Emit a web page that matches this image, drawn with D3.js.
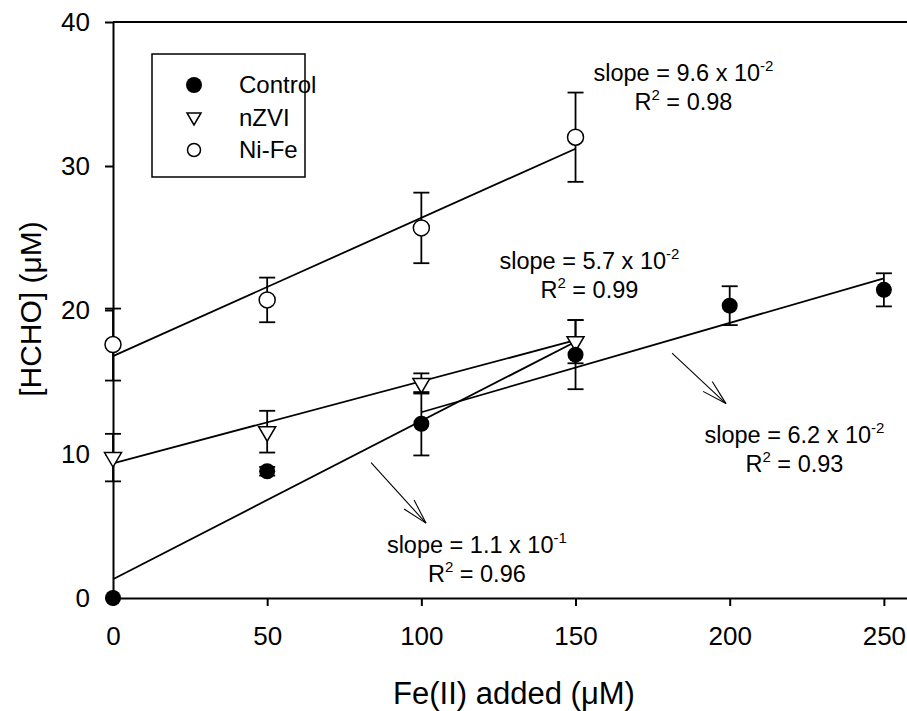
<!DOCTYPE html>
<html>
<head>
<meta charset="utf-8">
<style>
body { margin: 0; background: #fff; }
#thevis { display: block; background: #fff; }
text { font-family: "Liberation Sans", Arial, Helvetica, sans-serif; fill: #000; }
.tick line { stroke: #000; stroke-width: 2; }
.domain { stroke: #000; stroke-width: 2; }
</style>
</head>
<body>
<svg id="thevis" width="907" height="711"></svg>
<script src="https://cdn.jsdelivr.net/npm/d3@7/dist/d3.min.js"></script>
<script>

// values
var feAdded = [0, 50, 100, 150, 200, 250];

var controlY = [0, 8.8, 12.1, 16.9, 20.3, 21.4];
var controlErr = [0, 0.3, 2.2, 2.4, 1.35, 1.15];

var nzviX = [0, 50, 100, 150];
var nzviY = [9.75, 11.55, 14.9, 17.8];
var nzviErr = [1.65, 1.45, 0.7, 1.5];

var nifeX = [0, 50, 100, 150];
var nifeY = [17.6, 20.7, 25.7, 32.0];
var nifeErr = [2.5, 1.55, 2.45, 3.1];

// fitted lines: [x0, y0, x1, y1]
var fitLines = [
  [0, 16.8, 150, 31.2],
  [0, 9.35, 150, 17.9],
  [0, 1.3, 150, 17.8],
  [100, 12.9, 250, 22.2]
];

var xTicks = [0, 50, 100, 150, 200, 250];
var yTicks = [0, 10, 20, 30, 40];

var legendNames = ["Control", "nZVI", "Ni-Fe"];

// annotation text: slope mantissa, exponent, r2, anchor (data units)
var notes = [
  { slope: "9.6", exp: "-2", r2: "0.98", x: 185, y: 35.9 },
  { slope: "5.7", exp: "-2", r2: "0.99", x: 154.5, y: 22.85 },
  { slope: "1.1", exp: "-1", r2: "0.96", x: 118, y: 3.1 },
  { slope: "6.2", exp: "-2", r2: "0.93", x: 221, y: 10.75 }
];

// arrows: [x0, y0, x1, y1] in data units
var arrows = [
  [83.7, 9.4, 101.5, 5.2],
  [181.3, 17.0, 198.8, 13.5]
];

var svg = d3.select("#thevis");

var x = d3.scaleLinear().domain([0, 257.5]).range([113, 907]);
var y = d3.scaleLinear().domain([0, 40]).range([598, 22]);

// axes
svg.append("g")
  .attr("transform", "translate(0,598)")
  .call(d3.axisBottom(x).tickValues(xTicks).tickSize(8).tickSizeOuter(0).tickPadding(21));

svg.append("g")
  .attr("transform", "translate(113,0)")
  .call(d3.axisLeft(y).tickValues(yTicks).tickSize(8).tickSizeOuter(0).tickPadding(15));

svg.selectAll(".tick text")
  .attr("font-family", null)
  .style("font-size", "26px");

// top frame line
svg.append("line")
  .attr("x1", x(0)).attr("x2", 907)
  .attr("y1", y(40)).attr("y2", y(40))
  .attr("stroke", "#000").attr("stroke-width", 2);

// axis titles
svg.append("text")
  .attr("x", 514)
  .attr("y", 704)
  .attr("text-anchor", "middle")
  .style("font-size", "31px")
  .text("Fe(II) added (\u03bcM)");

svg.append("text")
  .attr("transform", "translate(41,309) rotate(-90)")
  .attr("text-anchor", "middle")
  .style("font-size", "30px")
  .text("[HCHO] (\u03bcM)");

// fit lines
svg.selectAll(".fit")
  .data(fitLines)
  .enter().append("line")
  .attr("class", "fit")
  .attr("x1", function(d) { return x(d[0]); })
  .attr("y1", function(d) { return y(d[1]); })
  .attr("x2", function(d) { return x(d[2]); })
  .attr("y2", function(d) { return y(d[3]); })
  .attr("stroke", "#000")
  .attr("stroke-width", 1.8);

// error bars
function errorBars(xs, ys, es) {
  var pts = xs.map(function(v, i) { return { x: v, y: ys[i], e: es[i] }; })
    .filter(function(d) { return d.e > 0; });
  var g = svg.append("g")
    .attr("stroke", "#000")
    .attr("stroke-width", 1.8);
  var eb = g.selectAll("g").data(pts).enter().append("g");
  eb.append("line")
    .attr("x1", function(d) { return x(d.x); })
    .attr("x2", function(d) { return x(d.x); })
    .attr("y1", function(d) { return y(d.y - d.e); })
    .attr("y2", function(d) { return y(d.y + d.e); });
  eb.append("line")
    .attr("x1", function(d) { return x(d.x) - 8; })
    .attr("x2", function(d) { return x(d.x) + 8; })
    .attr("y1", function(d) { return y(d.y + d.e); })
    .attr("y2", function(d) { return y(d.y + d.e); });
  eb.append("line")
    .attr("x1", function(d) { return x(d.x) - 8; })
    .attr("x2", function(d) { return x(d.x) + 8; })
    .attr("y1", function(d) { return y(d.y - d.e); })
    .attr("y2", function(d) { return y(d.y - d.e); });
}

errorBars(feAdded, controlY, controlErr);
errorBars(nzviX, nzviY, nzviErr);
errorBars(nifeX, nifeY, nifeErr);

var triPath = "M-8.5,-5L8.5,-5L0,9.5Z";

// markers
svg.selectAll(".nife")
  .data(nifeX)
  .enter().append("circle")
  .attr("class", "nife")
  .attr("cx", function(d) { return x(d); })
  .attr("cy", function(d, i) { return y(nifeY[i]); })
  .attr("r", 8)
  .attr("fill", "#fff")
  .attr("stroke", "#000")
  .attr("stroke-width", 1.5);

svg.selectAll(".nzvi")
  .data(nzviX)
  .enter().append("path")
  .attr("class", "nzvi")
  .attr("d", triPath)
  .attr("transform", function(d, i) { return "translate(" + x(d) + "," + y(nzviY[i]) + ")"; })
  .attr("fill", "#fff")
  .attr("stroke", "#000")
  .attr("stroke-width", 1.5);

svg.selectAll(".control")
  .data(feAdded)
  .enter().append("circle")
  .attr("class", "control")
  .attr("cx", function(d) { return x(d); })
  .attr("cy", function(d, i) { return y(controlY[i]); })
  .attr("r", 8)
  .attr("fill", "#000");

// annotations
notes.forEach(function(n) {
  var t1 = svg.append("text")
    .attr("x", x(n.x))
    .attr("y", y(n.y))
    .attr("text-anchor", "middle")
    .style("font-size", "23.5px");
  t1.append("tspan").text("slope = " + n.slope + " x 10");
  t1.append("tspan").attr("dy", -10).style("font-size", "15px").text(n.exp);

  var t2 = svg.append("text")
    .attr("x", x(n.x))
    .attr("y", y(n.y) + 29)
    .attr("text-anchor", "middle")
    .style("font-size", "23.5px");
  t2.append("tspan").text("R");
  t2.append("tspan").attr("dy", -10).style("font-size", "15px").text("2");
  t2.append("tspan").attr("dy", 10).text(" = " + n.r2);
});

// arrows with open heads
arrows.forEach(function(a) {
  var x0 = x(a[0]), y0 = y(a[1]), x1 = x(a[2]), y1 = y(a[3]);
  var ang = Math.atan2(y1 - y0, x1 - x0);
  var len = 26, spread = Math.PI / 12;
  var g = svg.append("g").attr("stroke", "#000").attr("stroke-width", 1.1).attr("fill", "none");
  g.append("line").attr("x1", x0).attr("y1", y0).attr("x2", x1).attr("y2", y1);
  [-spread, spread].forEach(function(s) {
    g.append("line")
      .attr("x1", x1).attr("y1", y1)
      .attr("x2", x1 - len * Math.cos(ang + s))
      .attr("y2", y1 - len * Math.sin(ang + s));
  });
});

// legend
var legend = svg.append("g");
legend.append("rect")
  .attr("x", 152).attr("y", 54)
  .attr("width", 153).attr("height", 123)
  .attr("fill", "#fff")
  .attr("stroke", "#000")
  .attr("stroke-width", 1.5);

var rows = legend.selectAll(".legend")
  .data(legendNames)
  .enter().append("g")
  .attr("class", "legend")
  .attr("transform", function(d, i) { return "translate(194," + (85 + i * 32.5) + ")"; });

rows.each(function(d, i) {
  var r = d3.select(this);
  if (i === 0) {
    r.append("circle").attr("r", 8).attr("fill", "#000");
  } else if (i === 1) {
    r.append("path").attr("d", "M-7,-4.5L7,-4.5L0,7.5Z")
      .attr("fill", "#fff").attr("stroke", "#000").attr("stroke-width", 1.5);
  } else {
    r.append("circle").attr("r", 6.5)
      .attr("fill", "#fff").attr("stroke", "#000").attr("stroke-width", 1.5);
  }
});

rows.append("text")
  .attr("x", 45)
  .attr("dy", "0.35em")
  .style("font-size", "24px")
  .text(function(d) { return d; });

</script>
</body>
</html>
